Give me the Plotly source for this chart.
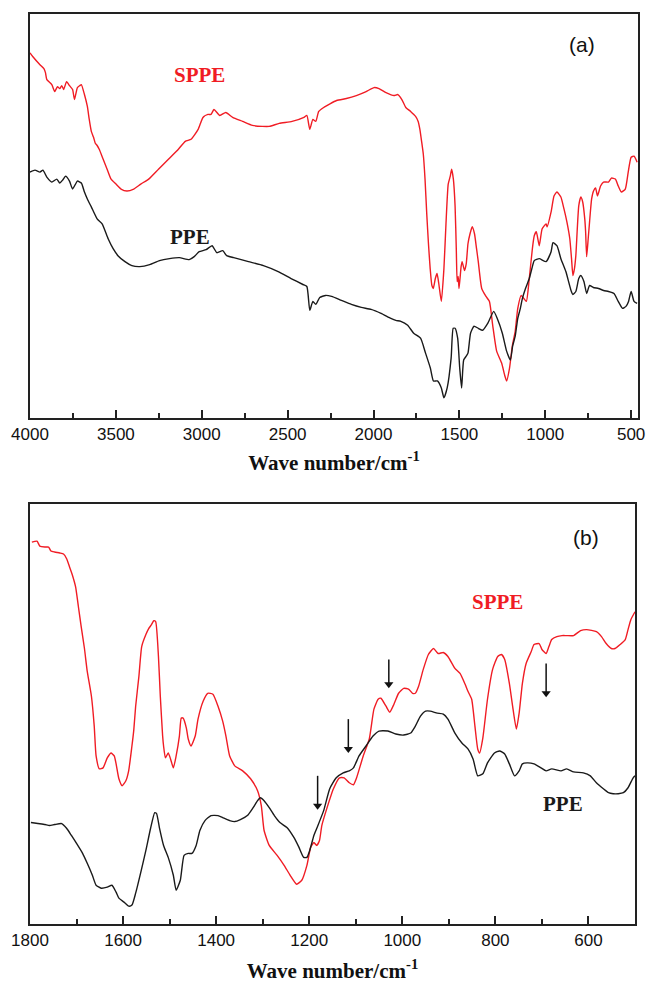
import plotly.graph_objects as go

# ---------------- Panel (a) data: wavenumber (cm-1) and relative transmittance (a.u.)
a_sppe_wn = [4000,3983,3942,3919,3910,3902,3873,3856,3840,3827,3815,3804,3787,3770,3752,3741,3724,3710,3701,3683,3666,3655,3643,3630,3620,3610,3597,3574,3551,3528,3499,3470,3436,3396,3355,3309,3252,3194,3136,3096,3062,3021,2993,2964,2946,2929,2895,2860,2820,2762,2705,2647,2607,2549,2474,2405,2388,2371,2353,2336,2319,2290,2215,2158,2100,2043,1997,1968,1927,1881,1858,1835,1812,1784,1755,1740,1730,1720,1710,1700,1690,1680,1670,1660,1652,1640,1630,1620,1605,1590,1578,1565,1553,1545,1535,1525,1518,1513,1507,1502,1490,1484,1470,1460,1450,1438,1425,1412,1400,1390,1370,1345,1325,1306,1283,1254,1235,1225,1208,1191,1175,1160,1140,1125,1110,1093,1075,1064,1052,1035,1018,995,989,966,949,932,909,891,874,857,847,839,830,822,805,793,782,770,765,759,750,742,730,719,707,696,678,661,632,615,592,575,557,534,517,500,483,465]
a_sppe_t = [367,363,355,351,347,340,335,328,333,331,334,330,338,334,330,320,332,334,335,325,313,300,288,282,276,274,270,260,250,240,235,230,228,230,235,240,250,260,270,278,280,290,302,305,305,310,304,307,302,298,294,293,293,296,298,302,304,290,300,298,308,312,319,321,324,328,332,331,327,324,325,320,312,308,303,298,290,278,265,240,205,175,150,133,130,140,145,135,117,150,195,235,243,250,240,213,170,137,142,130,152,157,148,155,175,185,192,185,170,157,130,122,117,93,67,55,42,37,50,73,87,110,123,120,117,140,170,183,187,173,190,195,192,207,223,227,222,210,197,180,160,143,150,163,213,222,217,200,187,162,180,197,220,228,231,223,233,237,237,241,240,233,227,230,247,262,263,257]

a_ppe_wn = [4000,3971,3942,3925,3902,3873,3844,3827,3810,3793,3770,3752,3724,3701,3683,3666,3643,3609,3580,3545,3516,3488,3447,3407,3361,3303,3246,3188,3130,3073,3044,3015,2975,2940,2912,2878,2855,2814,2728,2641,2555,2480,2411,2388,2371,2353,2336,2313,2279,2244,2187,2129,2071,2014,1956,1899,1870,1841,1801,1766,1726,1697,1669,1651,1628,1605,1590,1571,1548,1536,1525,1510,1498,1487,1475,1460,1450,1435,1415,1390,1365,1335,1300,1280,1250,1225,1203,1190,1175,1160,1145,1133,1115,1093,1075,1064,1035,995,966,955,932,909,880,850,839,822,805,793,775,759,742,720,690,660,632,600,575,550,530,515,500,483,465]
a_ppe_t = [247,249,247,249,242,237,240,236,239,243,238,230,238,236,227,220,212,200,195,180,170,163,157,153,152,154,158,160,161,159,162,167,169,173,166,168,163,161,157,153,147,140,134,132,108,117,114,121,123,122,118,114,111,109,105,100,98,97,93,85,80,65,50,37,37,30,20,30,60,90,90,80,50,30,58,62,65,85,92,90,88,95,107,100,85,67,58,72,82,100,110,120,130,140,152,158,160,157,167,176,173,160,147,128,124,127,140,143,137,125,133,131,130,128,127,125,117,110,112,117,127,117,115]

# ---------------- Panel (b) data
b_sppe_wn = [1796,1785,1779,1768,1760,1755,1747,1736,1728,1721,1715,1709,1702,1696,1690,1683,1677,1668,1662,1658,1651,1643,1634,1626,1619,1615,1609,1602,1594,1588,1581,1577,1573,1566,1560,1551,1545,1539,1534,1530,1524,1520,1515,1513,1509,1503,1498,1492,1486,1479,1475,1471,1464,1460,1454,1445,1439,1428,1418,1407,1396,1386,1379,1371,1360,1343,1326,1311,1303,1297,1286,1269,1254,1241,1227,1216,1205,1197,1190,1184,1178,1173,1163,1148,1135,1125,1114,1105,1099,1084,1071,1061,1052,1046,1035,1027,1018,1008,997,986,978,972,965,955,944,933,923,912,902,887,876,865,859,851,844,838,834,827,817,806,795,787,780,770,763,755,749,742,734,723,717,706,700,691,685,679,668,657,647,632,617,604,583,572,562,551,543,532,521,515,509,500]
b_sppe_t = [384,385,380,379,379,375,374,373,372,367,359,351,339,319,299,277,254,229,199,169,156,157,167,172,169,161,146,139,144,154,179,195,219,249,279,291,297,301,305,304,269,229,189,179,167,172,166,157,169,189,207,207,197,186,179,189,206,224,232,231,219,204,189,169,159,154,146,134,119,94,79,69,59,49,40,44,59,77,82,79,84,99,115,136,147,147,142,140,146,169,186,216,226,227,219,213,221,232,237,236,232,232,239,256,271,277,272,273,269,257,252,241,234,226,199,176,172,187,226,256,269,271,266,242,219,196,212,242,262,274,281,282,276,272,279,286,289,290,290,290,295,296,294,289,282,277,277,281,286,296,306,314]

b_ppe_wn = [1798,1783,1768,1758,1747,1732,1721,1711,1700,1687,1677,1666,1658,1647,1634,1624,1615,1609,1598,1588,1581,1573,1562,1551,1541,1532,1528,1522,1513,1503,1492,1486,1477,1469,1460,1452,1443,1435,1424,1411,1396,1386,1371,1360,1348,1333,1322,1311,1305,1297,1286,1275,1263,1248,1233,1222,1212,1205,1199,1190,1184,1169,1156,1142,1127,1114,1105,1093,1078,1063,1050,1031,1014,997,982,972,961,950,940,925,912,902,887,872,859,848,838,827,817,802,791,780,770,759,749,742,732,717,702,691,679,659,647,632,611,596,583,568,557,547,536,525,515,504,500]
b_ppe_t = [102,101,100,99,100,101,96,89,81,71,61,49,39,36,37,39,32,26,22,18,19,31,52,74,96,112,111,97,79,67,49,34,44,69,71,71,79,94,104,109,109,107,104,103,105,109,116,124,127,124,117,109,102,97,87,77,67,67,74,89,96,114,136,147,152,154,157,169,179,189,194,194,191,190,192,199,209,214,214,212,211,206,192,182,176,166,149,151,162,172,174,171,161,149,154,161,162,161,157,154,156,154,156,153,152,149,142,136,132,131,131,132,137,147,149]

# arrows in panel (b): wavenumber, tail value, head value
arrow_wn = [1182, 1116, 1029, 691]
arrow_tail = [149, 206, 266, 262]
arrow_head = [114, 171, 236, 227]

RED = "#f01c24"
BLACK = "#1a1a1a"
SERIF = "Liberation Serif, Times New Roman, serif"
SANS = "Liberation Sans, Arial, sans-serif"

fig = go.Figure()
line_kw = dict(width=1.4, shape="spline", smoothing=0.5)
fig.add_trace(go.Scatter(x=a_sppe_wn, y=a_sppe_t, mode="lines", line=dict(color=RED, **line_kw), xaxis="x", yaxis="y", showlegend=False))
fig.add_trace(go.Scatter(x=a_ppe_wn, y=a_ppe_t, mode="lines", line=dict(color=BLACK, **line_kw), xaxis="x", yaxis="y", showlegend=False))
fig.add_trace(go.Scatter(x=b_sppe_wn, y=b_sppe_t, mode="lines", line=dict(color=RED, **line_kw), xaxis="x2", yaxis="y2", showlegend=False))
fig.add_trace(go.Scatter(x=b_ppe_wn, y=b_ppe_t, mode="lines", line=dict(color=BLACK, **line_kw), xaxis="x2", yaxis="y2", showlegend=False))

# arrows drawn as short line traces with an arrow marker at the head
for w, t, h in zip(arrow_wn, arrow_tail, arrow_head):
    fig.add_trace(go.Scatter(x=[w, w], y=[t, h + 4], mode="lines", line=dict(color="#111", width=1.5),
                             xaxis="x2", yaxis="y2", showlegend=False, hoverinfo="skip"))
    fig.add_trace(go.Scatter(x=[w], y=[h + 5], mode="markers",
                             marker=dict(symbol="triangle-down", size=8, color="#111"),
                             xaxis="x2", yaxis="y2", showlegend=False, hoverinfo="skip"))

title_txt = "<b>Wave number/cm<sup>-1</sup></b>"
xcommon = dict(showline=True, linecolor="#222", linewidth=2, mirror=True, ticks="inside",
               tickcolor="#222", tickwidth=2, ticklen=8, showgrid=False, zeroline=False,
               tickfont=dict(family=SANS, size=17, color="#111"),
               title_font=dict(family=SERIF, size=21, color="#111"))
ycommon = dict(showline=True, linecolor="#222", linewidth=2, mirror=True, ticks="",
               showticklabels=False, showgrid=False, zeroline=False)

annotations = [
    dict(x=3016, y=345, xref="x", yref="y", text="<b>SPPE</b>", showarrow=False,
         font=dict(family=SERIF, size=21, color=RED)),
    dict(x=3067, y=182, xref="x", yref="y", text="<b>PPE</b>", showarrow=False,
         font=dict(family=SERIF, size=21, color=BLACK)),
    dict(x=787, y=375, xref="x", yref="y", text="(a)", showarrow=False,
         font=dict(family=SANS, size=21, color="#111")),
    dict(x=795, y=324, xref="x2", yref="y2", text="<b>SPPE</b>", showarrow=False,
         font=dict(family=SERIF, size=21, color=RED)),
    dict(x=655, y=121, xref="x2", yref="y2", text="<b>PPE</b>", showarrow=False,
         font=dict(family=SERIF, size=21, color=BLACK)),
    dict(x=606, y=389, xref="x2", yref="y2", text="(b)", showarrow=False,
         font=dict(family=SANS, size=21, color="#111")),
]

fig.update_layout(
    width=653, height=987,
    margin=dict(l=30, r=8, t=14, b=58),
    paper_bgcolor="white", plot_bgcolor="white",
    xaxis=dict(domain=[0, 1], range=[4000, 460], anchor="y", tickmode="linear", tick0=500, dtick=500,
               minor=dict(ticks="inside", tickmode="linear", tick0=250, dtick=250, ticklen=5, tickwidth=2, tickcolor="#222"),
               title=dict(text=title_txt, standoff=12), **xcommon),
    yaxis=dict(domain=[0.5563, 1], range=[0, 406], anchor="x", **ycommon),
    xaxis2=dict(domain=[0, 0.9951], range=[1800, 500], anchor="y2", tickmode="linear", tick0=600, dtick=200,
                minor=dict(ticks="inside", tickmode="linear", tick0=500, dtick=100, ticklen=5, tickwidth=2, tickcolor="#222"),
                title=dict(text=title_txt, standoff=14), **xcommon),
    yaxis2=dict(domain=[0, 0.4612], range=[0, 422], anchor="x2", **ycommon),
    annotations=annotations,
)

fig.write_html("out.html")
